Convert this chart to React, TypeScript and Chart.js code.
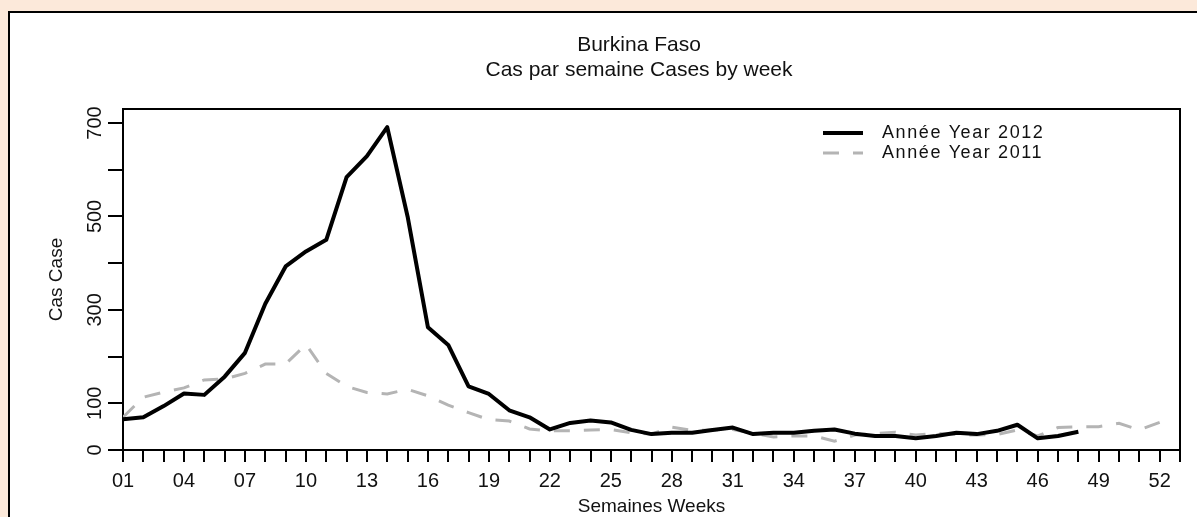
import React, { useEffect, useRef } from "react";
import { Chart, registerables } from "chart.js";

Chart.register(...registerables);

const weeks = [
  1, 2, 3, 4, 5, 6, 7, 8, 9, 10, 11, 12, 13, 14, 15, 16, 17, 18, 19, 20, 21, 22, 23, 24, 25, 26,
  27, 28, 29, 30, 31, 32, 33, 34, 35, 36, 37, 38, 39, 40, 41, 42, 43, 44, 45, 46, 47, 48, 49, 50, 51, 52,
];

const cases2012 = [
  66, 70, 94, 121, 118, 157, 208, 313, 393, 425, 450, 584, 629, 691, 500, 263, 225, 136, 120, 85, 70, 44,
  58, 63, 59, 43, 34, 37, 37, 43, 48, 34, 37, 37, 41, 44, 35, 30, 30, 25, 30, 37, 34, 41, 54, 25, 30, 39,
];

const cases2011 = [
  70, 113, 124, 133, 150, 152, 164, 184, 184, 226, 164, 136, 123, 120, 130, 116, 96, 80, 65, 62, 45, 41,
  41, 43, 44, 37, 34, 49, 42, 43, 44, 36, 28, 30, 30, 19, 32, 35, 38, 32, 36, 33, 32, 33, 43, 30, 48, 50,
  50, 57, 43, 59,
];

const xTickLabels = ["01", "04", "07", "10", "13", "16", "19", "22", "25", "28", "31", "34", "37", "40", "43", "46", "49", "52"];
const yTickLabels = [0, 100, 300, 500, 700];
const titleLines = ["Burkina Faso", "Cas par semaine Cases by week"];
const xTitle = "Semaines Weeks";
const yTitle = "Cas Case";
const seriesLabels = ["Année Year 2012", "Année Year 2011"];

const FONT = "'Liberation Sans', Arial, sans-serif";
const TEXT = "#111111";

const framePlugin = {
  id: "frame",
  afterDraw(chart: any) {
    const { ctx, chartArea } = chart;
    ctx.save();
    ctx.strokeStyle = "#000";
    ctx.lineWidth = 2;
    ctx.beginPath();
    ctx.moveTo(chartArea.left, chartArea.top);
    ctx.lineTo(chartArea.right, chartArea.top);
    ctx.lineTo(chartArea.right, chartArea.bottom);
    ctx.stroke();
    ctx.restore();
  },
};

const titlePlugin = {
  id: "customTitle",
  afterDraw(chart: any) {
    const { ctx } = chart;
    ctx.save();
    ctx.fillStyle = TEXT;
    ctx.font = `21px ${FONT}`;
    ctx.textAlign = "center";
    ctx.textBaseline = "middle";
    titleLines.forEach((line, i) => {
      ctx.fillText(line, 639, 45 + i * 25);
    });
    ctx.restore();
  },
};

const legendPlugin = {
  id: "customLegend",
  afterDraw(chart: any) {
    const { ctx, chartArea } = chart;
    ctx.save();
    chart.data.datasets.forEach((ds: any, i: number) => {
      const y = chartArea.top + 24 + i * 20;
      const x1 = chartArea.right - 357;
      const x2 = chartArea.right - 317;
      ctx.beginPath();
      ctx.strokeStyle = ds.borderColor;
      ctx.lineWidth = ds.borderWidth;
      ctx.setLineDash(ds.borderDash || []);
      ctx.moveTo(x1, y);
      ctx.lineTo(x2, y);
      ctx.stroke();
      ctx.setLineDash([]);
      ctx.fillStyle = TEXT;
      ctx.font = `18px ${FONT}`;
      ctx.textBaseline = "middle";
      ctx.textAlign = "left";
      (ctx as any).letterSpacing = "1.6px";
      ctx.fillText(ds.label, chartArea.right - 298, y);
      (ctx as any).letterSpacing = "0px";
    });
    ctx.restore();
  },
};

export default function App() {
  const canvasRef = useRef<HTMLCanvasElement | null>(null);

  useEffect(() => {
    if (!canvasRef.current) return;
    const chart = new Chart(canvasRef.current, {
      type: "line",
      data: {
        datasets: [
          {
            label: seriesLabels[0],
            data: cases2012.map((v, i) => ({ x: weeks[i], y: v })),
            borderColor: "#000000",
            borderWidth: 4,
            pointRadius: 0,
            tension: 0,
            borderJoinStyle: "round",
          },
          {
            label: seriesLabels[1],
            data: cases2011.map((v, i) => ({ x: weeks[i], y: v })),
            borderColor: "#b4b4b4",
            borderWidth: 3,
            borderDash: [16, 14],
            pointRadius: 0,
            tension: 0,
          },
        ],
      },
      options: {
        animation: false,
        responsive: true,
        maintainAspectRatio: false,
        layout: { padding: { left: 0, right: 17, top: 109, bottom: 0 } },
        plugins: {
          legend: { display: false },
          tooltip: { enabled: false },
          title: { display: false },
        },
        scales: {
          x: {
            type: "linear",
            min: 1,
            max: 53,
            afterFit: (s: any) => {
              s.height = 67;
            },
            ticks: {
              stepSize: 1,
              autoSkip: false,
              maxRotation: 0,
              minRotation: 0,
              padding: 7,
              color: TEXT,
              font: { family: FONT, size: 20 },
              callback: (v: any) => {
                const s = String(v).padStart(2, "0");
                return xTickLabels.includes(s) ? s : "";
              },
            },
            grid: { drawOnChartArea: false, drawTicks: true, tickLength: 12, color: "#000", lineWidth: 2 },
            border: { display: true, color: "#000", width: 2 },
            title: {
              display: true,
              text: xTitle,
              color: TEXT,
              font: { family: FONT, size: 19, lineHeight: "20px" },
              padding: { top: 0, bottom: 0 },
            },
          },
          y: {
            type: "linear",
            min: 0,
            max: 730,
            afterFit: (s: any) => {
              s.width = 123;
            },
            ticks: {
              stepSize: 100,
              includeBounds: false,
              autoSkip: false,
              minRotation: 90,
              maxRotation: 90,
              crossAlign: "center",
              padding: -4,
              color: TEXT,
              font: { family: FONT, size: 20 },
              callback: (v: any) => (yTickLabels.includes(Number(v)) ? String(v) : ""),
            },
            grid: { drawOnChartArea: false, drawTicks: true, tickLength: 15, color: "#000", lineWidth: 2 },
            border: { display: true, color: "#000", width: 2 },
            title: {
              display: true,
              text: yTitle,
              color: TEXT,
              font: { family: FONT, size: 19, lineHeight: "20px" },
              padding: { top: 47, bottom: 0 },
            },
          },
        },
      },
      plugins: [framePlugin, titlePlugin, legendPlugin],
    } as any);
    return () => chart.destroy();
  }, []);

  return (
    <>
      <style>{`html,body{margin:0;padding:0;overflow:hidden;background:#fce9da;}`}</style>
      <div
        style={{
          position: "absolute",
          left: 8,
          top: 11,
          width: 1197 - 8,
          height: 517 - 11,
          boxSizing: "border-box",
          background: "#ffffff",
          borderLeft: "2px solid #000",
          borderTop: "2px solid #000",
        }}
      />
      <div style={{ position: "absolute", left: 0, top: 0, width: 1197, height: 517, zIndex: 1 }}>
        <canvas ref={canvasRef} />
      </div>
    </>
  );
}
